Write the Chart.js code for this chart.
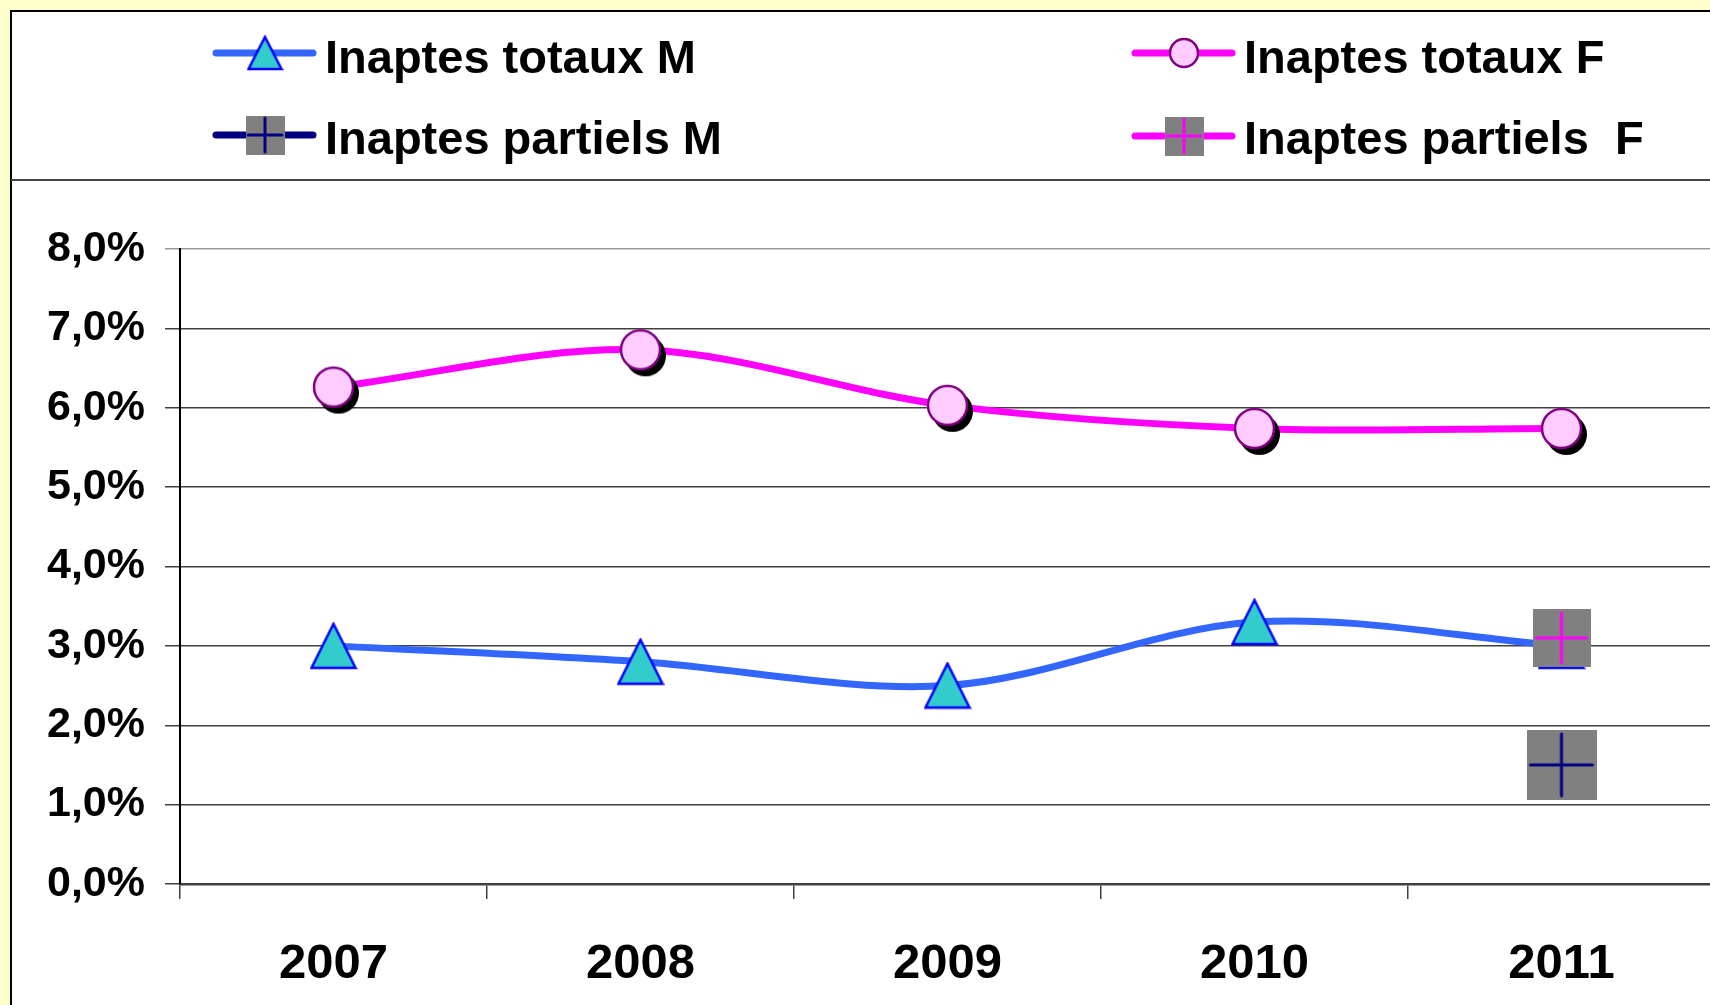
<!DOCTYPE html>
<html lang="fr">
<head>
<meta charset="utf-8">
<title>Inaptes totaux et partiels</title>
<script src="https://cdn.jsdelivr.net/npm/chart.js@4.4.1/dist/chart.umd.min.js"></script>
<style>
  html, body { margin: 0; padding: 0; overflow: hidden; background: #ffffcc; }
  canvas { display: block; }
</style>
</head>
<body>
<canvas id="chart" width="1715" height="1005"></canvas>
<script>
const years = ['2007', '2008', '2009', '2010', '2011'];
const totauxM = [3.0, 2.8, 2.5, 3.3, 3.0];
const totauxF = [6.26, 6.73, 6.03, 5.74, 5.74];
const partielsM = [null, null, null, null, 1.5];
const partielsF = [null, null, null, null, 3.1];
const yTicks = [0, 1, 2, 3, 4, 5, 6, 7, 8];

// small canvases used as point markers
function makeCanvas(w, h, draw) {
    const c = document.createElement('canvas');
    c.width = w;
    c.height = h;
    draw(c.getContext('2d'));
    return c;
}

function triangle(w, h) {
    return makeCanvas(w + 4, h + 4, ctx => {
        ctx.beginPath();
        ctx.moveTo(w / 2 + 2, 2);
        ctx.lineTo(w + 2, h + 2);
        ctx.lineTo(2, h + 2);
        ctx.closePath();
        ctx.fillStyle = '#33cccc';
        ctx.fill();
        ctx.lineWidth = 2.5;
        ctx.strokeStyle = '#0000ff';
        ctx.stroke();
    });
}

function bubble(r, shadow) {
    const c = r + 3 + (shadow ? 7 : 0);
    return makeCanvas(c * 2, c * 2, ctx => {
        if (shadow) {
            ctx.beginPath();
            ctx.arc(c + 5, c + 6, r + 1, 0, Math.PI * 2);
            ctx.fillStyle = '#000';
            ctx.fill();
        }
        ctx.beginPath();
        ctx.arc(c, c, r, 0, Math.PI * 2);
        ctx.fillStyle = '#ffccff';
        ctx.fill();
        ctx.lineWidth = 2.5;
        ctx.strokeStyle = '#800080';
        ctx.stroke();
    });
}

function square(size, cross, color) {
    return makeCanvas(size, size, ctx => {
        ctx.fillStyle = '#808080';
        ctx.fillRect(0, 0, size, size);
        const m = size / 2, h = cross / 2;
        ctx.strokeStyle = color;
        ctx.lineWidth = 3;
        ctx.lineCap = 'round';
        ctx.beginPath();
        ctx.moveTo(m - h, m); ctx.lineTo(m + h, m);
        ctx.moveTo(m, m - h); ctx.lineTo(m, m + h);
        ctx.stroke();
    });
}

const triPoint = triangle(44, 44);
const circPoint = bubble(19.5, true);
const sqPointF = square(58, 50, '#ff00ff');
const sqPointM = square(70, 62, '#000080');

const legendSlots = [
    { index: 2, marker: triangle(33, 32), x: 216, y: 53, baseline: 73 },
    { index: 3, marker: bubble(14, false), x: 1135, y: 53, baseline: 73 },
    { index: 1, marker: square(39, 34, '#000080'), x: 216, y: 135, baseline: 154 },
    { index: 0, marker: square(39, 34, '#ff00ff'), x: 1135, y: 136, baseline: 154 }
];

const frame = {
    id: 'frame',
    beforeDraw(chart) {
        const ctx = chart.ctx;
        const w = chart.width, h = chart.height;
        ctx.save();
        ctx.fillStyle = '#ffffcc';
        ctx.fillRect(0, 0, w, h);
        ctx.fillStyle = '#ffffff';
        ctx.fillRect(11, 11, w, h);
        ctx.strokeStyle = '#000';
        ctx.lineWidth = 2;
        ctx.beginPath();
        ctx.moveTo(11, h);
        ctx.lineTo(11, 11);
        ctx.lineTo(w, 11);
        ctx.stroke();
        ctx.strokeStyle = '#444';
        ctx.beginPath();
        ctx.moveTo(11, 180);
        ctx.lineTo(w, 180);
        ctx.stroke();

        // legend, two columns
        ctx.font = 'bold 47px "Liberation Sans"';
        ctx.textBaseline = 'alphabetic';
        legendSlots.forEach(slot => {
            const ds = chart.data.datasets[slot.index];
            ctx.strokeStyle = ds.borderColor;
            ctx.lineWidth = 7;
            ctx.lineCap = 'round';
            ctx.beginPath();
            ctx.moveTo(slot.x, slot.y);
            ctx.lineTo(slot.x + 97, slot.y);
            ctx.stroke();
            const m = slot.marker;
            ctx.drawImage(m, slot.x + 49 - m.width / 2, slot.y - m.height / 2);
            ctx.fillStyle = '#000';
            ctx.fillText(ds.label, slot.x + 109, slot.baseline);
        });
        ctx.restore();
    }
};

Chart.defaults.font.family = '"Liberation Sans", Arial, sans-serif';

new Chart(document.getElementById('chart'), {
    type: 'line',
    data: {
        labels: years,
        datasets: [
            {
                label: 'Inaptes partiels  F',
                data: partielsF,
                borderColor: '#ff00ff',
                pointStyle: sqPointF,
                pointRadius: 29,
                order: 0
            },
            {
                label: 'Inaptes partiels M',
                data: partielsM,
                borderColor: '#000080',
                pointStyle: sqPointM,
                pointRadius: 35,
                order: 1
            },
            {
                label: 'Inaptes totaux M',
                data: totauxM,
                borderColor: '#3366ff',
                borderWidth: 7,
                tension: 0.33,
                pointStyle: triPoint,
                pointRadius: 22,
                order: 2
            },
            {
                label: 'Inaptes totaux F',
                data: totauxF,
                borderColor: '#ff00ff',
                borderWidth: 7,
                tension: 0.33,
                pointStyle: circPoint,
                pointRadius: 21,
                order: 3
            }
        ]
    },
    options: {
        responsive: false,
        animation: false,
        layout: { autoPadding: false, padding: { top: 249, left: 0, right: 0, bottom: 0 } },
        plugins: {
            legend: { display: false },
            tooltip: { enabled: false }
        },
        scales: {
            x: {
                offset: true,
                grid: { offset: true, drawOnChartArea: false, tickLength: 15, color: '#404040', lineWidth: 1.5 },
                border: { color: '#404040', width: 2.5 },
                ticks: { color: '#000', font: { size: 49, weight: 'bold' }, padding: 36, maxRotation: 0 },
                afterFit(s) { s.height = 121; }
            },
            y: {
                min: 0,
                max: 8,
                afterBuildTicks(s) { s.ticks = yTicks.map(v => ({ value: v })); },
                grid: {
                    color: c => (c.tick && c.tick.value === 8 ? '#9a9a9a' : '#404040'),
                    lineWidth: 1.5,
                    tickLength: 15
                },
                border: { color: '#000', width: 2 },
                ticks: {
                    color: '#000',
                    font: { size: 43, weight: 'bold' },
                    padding: 20,
                    callback: v => v.toFixed(1).replace('.', ',') + '%'
                },
                afterFit(s) { s.width = 180; }
            }
        }
    },
    plugins: [frame]
});
</script>
</body>
</html>
